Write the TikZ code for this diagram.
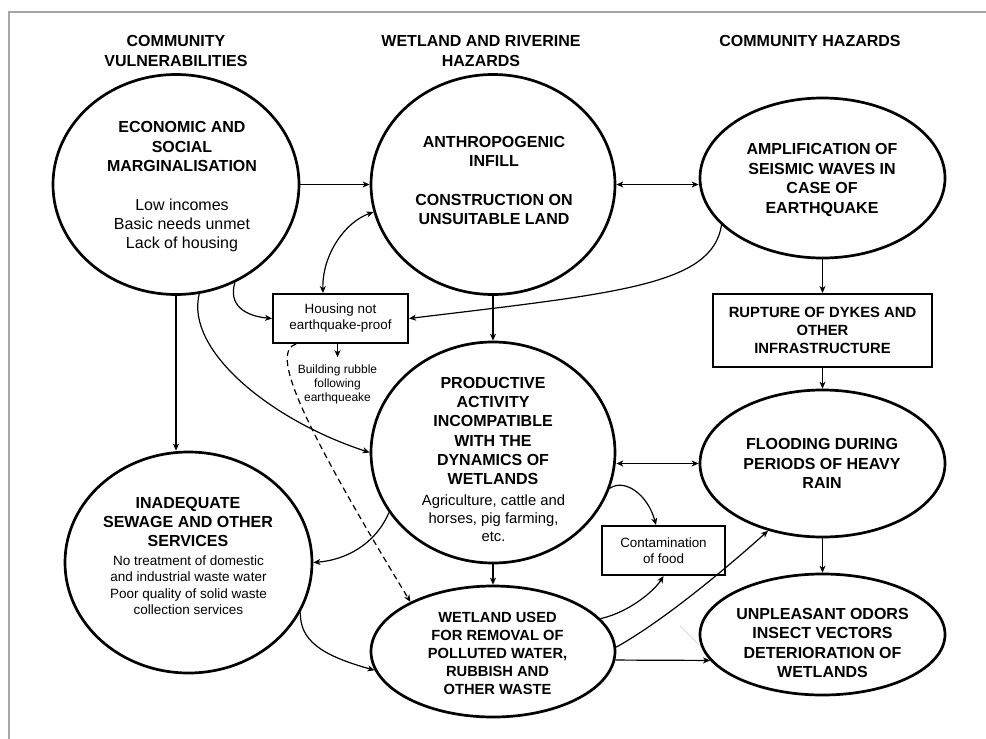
\documentclass[tikz,border=0pt]{standalone}
\usepackage{fontspec}
\setmainfont{Liberation Sans}
\usetikzlibrary{shapes.geometric,arrows.meta}
\begin{document}
\begin{tikzpicture}[x=1pt,y=-1pt,
 >={Stealth[length=7pt,width=6pt,inset=2pt]},
 ell/.style={ellipse,draw,line width=2.7pt,inner sep=0pt},
 box/.style={rectangle,draw,line width=1.9pt,inner sep=0pt,align=center},
 bt/.style={align=center,inner sep=0pt,font=\fontsize{16}{19.4}\selectfont\bfseries},
 rt/.style={align=center,inner sep=0pt,font=\fontsize{16}{19}\selectfont},
 arr/.style={line width=1.2pt,->},
 darr/.style={line width=1.2pt,<->},
]
\useasboundingbox (0,0) rectangle (986,739);
\draw[gray!70,line width=1.5pt] (986,12) -- (9,12) -- (9,739);

% headers
\node[bt] (h1) at (176,51) {COMMUNITY\\VULNERABILITIES};
\node[bt] (h2) at (481,51) {WETLAND AND RIVERINE\\HAZARDS};
\node[bt] (h3) at (810,41) {COMMUNITY HAZARDS};

% ellipses
\node[ell,minimum width=246pt,minimum height=220pt] (e1) at (176,184.5) {};
\node[ell,minimum width=244pt,minimum height=220pt] (e2) at (493,184.5) {};
\node[ell,minimum width=245pt,minimum height=160pt] (e3) at (822.5,178) {};
\node[ell,minimum width=244pt,minimum height=221pt] (e4) at (493,452.5) {};
\node[ell,minimum width=247pt,minimum height=221pt] (e5) at (188.5,562.5) {};
\node[ell,minimum width=244pt,minimum height=131pt] (e6) at (493,651.5) {};
\node[ell,minimum width=245pt,minimum height=147pt] (e7) at (822.5,463.5) {};
\node[ell,minimum width=245pt,minimum height=121pt] (e8) at (822.5,634.5) {};

% ellipse texts
\node[bt] (t1a) at (182,146.5) {ECONOMIC AND\\SOCIAL\\MARGINALISATION};
\node[rt] (t1b) at (182,225.5) {Low incomes\\Basic needs unmet\\Lack of housing};
\node[bt] (t2a) at (494,151.5) {ANTHROPOGENIC\\INFILL};
\node[bt] (t2b) at (494,209.5) {CONSTRUCTION ON\\UNSUITABLE LAND};
\node[bt] (t3) at (822,180) {AMPLIFICATION OF\\SEISMIC WAVES IN\\CASE OF\\EARTHQUAKE};
\node[align=center,inner sep=0pt,font=\fontsize{16}{19.2}\selectfont\bfseries] (t4a) at (493,431) {PRODUCTIVE\\ACTIVITY\\INCOMPATIBLE\\WITH THE\\DYNAMICS OF\\WETLANDS};
\node[align=center,inner sep=0pt,font=\fontsize{14.8}{18}\selectfont] (t4b) at (493.5,518.5) {Agriculture, cattle and\\horses, pig farming,\\etc.};
\node[bt] (t5a) at (188,522) {INADEQUATE\\SEWAGE AND OTHER\\SERVICES};
\node[align=center,inner sep=0pt,font=\fontsize{13.5}{16.4}\selectfont] (t5b) at (188.5,585) {No treatment of domestic\\and industrial waste water\\Poor quality of solid waste\\collection services};
\node[align=center,inner sep=0pt,font=\fontsize{14.7}{18}\selectfont\bfseries] (t6) at (497.5,653) {WETLAND USED\\FOR REMOVAL OF\\POLLUTED WATER,\\RUBBISH AND\\OTHER WASTE};
\node[bt] (t7) at (822,463.5) {FLOODING DURING\\PERIODS OF HEAVY\\RAIN};
\node[bt] (t8) at (822.5,643) {UNPLEASANT ODORS\\INSECT VECTORS\\DETERIORATION OF\\WETLANDS};

% boxes
\node[box,minimum width=219pt,minimum height=73pt,font=\fontsize{14.8}{17.7}\selectfont\bfseries] (rup) at (822.5,330.5) {RUPTURE OF DYKES AND\\OTHER\\INFRASTRUCTURE};
\node[box,minimum width=135pt,minimum height=49pt,font=\fontsize{13.4}{16}\selectfont] (hb) at (340.5,318.5) {Housing not\\earthquake-proof};
\node[box,minimum width=123pt,minimum height=49pt,font=\fontsize{13.4}{16}\selectfont] (cf) at (663.5,550.5) {Contamination\\of food};
\node[align=center,inner xsep=0pt,inner ysep=7.5pt,font=\fontsize{12}{14}\selectfont] (rub) at (337.5,384.5) {Building rubble\\following\\earthqueake};

% connectors
\draw[arr] (e1.east) -- (e2.west);
\draw[darr] (e2.east) -- (e2.east -| e3.west);
\draw[darr] (e2.193) .. controls (345,222) and (322,255) .. ([xshift=-17.5pt]hb.north);
\draw[arr] (e1.-59.6) .. controls (228,305) and (245,316) .. (hb.west);
\draw[arr] (e3.205) .. controls (712,285) and (620,293) .. (hb.east);
\draw[arr] (e1.south) -- (e1.south |- e5.north);
\draw[arr] (e1.-78) .. controls (185,350) and (270,420) .. (e4.west);
\draw[arr] (hb.south -| rub.north) -- (rub.north);
\draw[arr,dash pattern=on 6pt off 4pt] ([xshift=24pt]hb.south west) .. controls (270,352) and (300,420) .. (e6.149);
\draw[arr] (e2.south) -- (e4.north);
\draw[arr] (e3.south) -- (rup.north);
\draw[arr] (rup.south) -- (e7.north);
\draw[darr] (e7.west -| e4.east) -- (e7.west);
\draw[arr] (e4.210) .. controls (375,545) and (345,560) .. (e5.east);
\draw[arr] (e5.-24.8) .. controls (300,640) and (320,655) .. (e6.189);
\draw[arr] (e4.south) -- (e6.north);
\draw[arr] (e4.-17) .. controls (625,478) and (648,495) .. ([xshift=-7.5pt]cf.north);
\draw[arr] (e6.17.4) .. controls (630,612) and (655,590) .. (cf.south);
\draw[arr] (e6.2) .. controls (665,620) and (730,565) .. (e7.231.5);
\draw[arr] (e6.-4.5) -- (e8.193);
\draw[arr] (e7.south) -- (e8.north);
\draw[gray!45,line width=0.4pt] (680,626) -- (701,647);
\end{tikzpicture}
\end{document}
